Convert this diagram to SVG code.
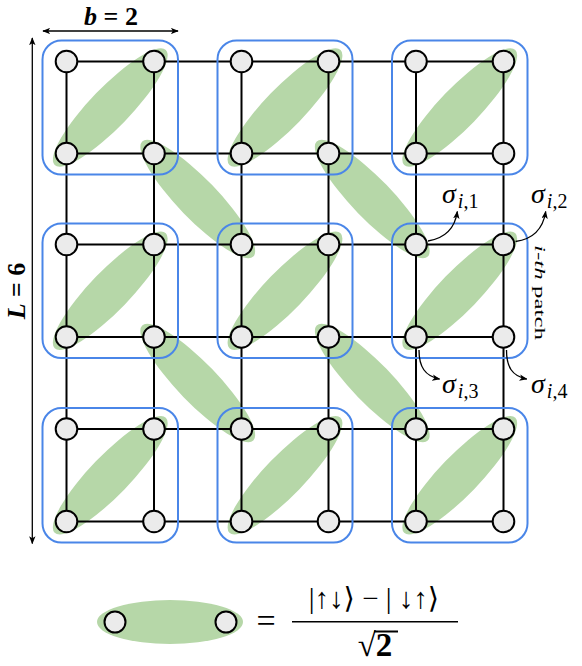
<svg xmlns="http://www.w3.org/2000/svg" width="582" height="666" viewBox="0 0 582 666">
<style>
.pair{fill:#b6d7a8;stroke:none}
.grid line{stroke:#000;stroke-width:2}
.box{fill:none;stroke:#4a86e8;stroke-width:2}
.node{fill:#ebebeb;stroke:#000;stroke-width:2}
.arr{fill:none;stroke:#000;stroke-width:1.3}
</style>
<defs>
<marker id="ah" viewBox="0 0 10 8" refX="9" refY="4" markerWidth="8" markerHeight="6.4" markerUnits="userSpaceOnUse" orient="auto-start-reverse">
<path d="M0,0 L10,4 L0,8 L2.5,4 z" fill="#000"/>
</marker>
</defs>
<rect width="582" height="666" fill="#fff"/>

<!-- singlet pairs (green) -->
<g id="pairs">
<ellipse class="pair" cx="110.25" cy="107.5" rx="80" ry="20" transform="rotate(-46 110.25 107.5)"/>
<ellipse class="pair" cx="285" cy="107.5" rx="80" ry="20" transform="rotate(-46 285 107.5)"/>
<ellipse class="pair" cx="459.75" cy="107.5" rx="80" ry="20" transform="rotate(-46 459.75 107.5)"/>
<ellipse class="pair" cx="110.25" cy="290.75" rx="80" ry="20" transform="rotate(-46 110.25 290.75)"/>
<ellipse class="pair" cx="285" cy="290.75" rx="80" ry="20" transform="rotate(-46 285 290.75)"/>
<ellipse class="pair" cx="459.75" cy="290.75" rx="80" ry="20" transform="rotate(-46 459.75 290.75)"/>
<ellipse class="pair" cx="110.25" cy="475.25" rx="80" ry="20" transform="rotate(-46 110.25 475.25)"/>
<ellipse class="pair" cx="285" cy="475.25" rx="80" ry="20" transform="rotate(-46 285 475.25)"/>
<ellipse class="pair" cx="459.75" cy="475.25" rx="80" ry="20" transform="rotate(-46 459.75 475.25)"/>
<ellipse class="pair" cx="197.75" cy="199" rx="80" ry="20" transform="rotate(46 197.75 199)"/>
<ellipse class="pair" cx="372.25" cy="199" rx="80" ry="20" transform="rotate(46 372.25 199)"/>
<ellipse class="pair" cx="197.75" cy="383" rx="80" ry="20" transform="rotate(46 197.75 383)"/>
<ellipse class="pair" cx="372.25" cy="383" rx="80" ry="20" transform="rotate(46 372.25 383)"/>
</g>

<!-- lattice bonds -->
<g id="connectors" class="grid">
<line x1="66.5" y1="61.5" x2="503.5" y2="61.5"/>
<line x1="66.5" y1="153.5" x2="503.5" y2="153.5"/>
<line x1="66.5" y1="244.5" x2="503.5" y2="244.5"/>
<line x1="66.5" y1="337" x2="503.5" y2="337"/>
<line x1="66.5" y1="429" x2="503.5" y2="429"/>
<line x1="66.5" y1="521.5" x2="503.5" y2="521.5"/>
<line x1="66.5" y1="61.5" x2="66.5" y2="521.5"/>
<line x1="154" y1="61.5" x2="154" y2="521.5"/>
<line x1="241.5" y1="61.5" x2="241.5" y2="521.5"/>
<line x1="328.5" y1="61.5" x2="328.5" y2="521.5"/>
<line x1="416" y1="61.5" x2="416" y2="521.5"/>
<line x1="503.5" y1="61.5" x2="503.5" y2="521.5"/>
</g>

<!-- patches -->
<g id="patch-0-0">
<rect class="box" x="42.5" y="40.5" width="135.5" height="134" rx="19"/>
<circle class="node" cx="66.5" cy="61.5" r="10.8"/><circle class="node" cx="154" cy="61.5" r="10.8"/>
<circle class="node" cx="66.5" cy="153.5" r="10.8"/><circle class="node" cx="154" cy="153.5" r="10.8"/>
</g>
<g id="patch-0-1">
<rect class="box" x="217.5" y="40.5" width="135" height="134" rx="19"/>
<circle class="node" cx="241.5" cy="61.5" r="10.8"/><circle class="node" cx="328.5" cy="61.5" r="10.8"/>
<circle class="node" cx="241.5" cy="153.5" r="10.8"/><circle class="node" cx="328.5" cy="153.5" r="10.8"/>
</g>
<g id="patch-0-2">
<rect class="box" x="392" y="40.5" width="135.5" height="134" rx="19"/>
<circle class="node" cx="416" cy="61.5" r="10.8"/><circle class="node" cx="503.5" cy="61.5" r="10.8"/>
<circle class="node" cx="416" cy="153.5" r="10.8"/><circle class="node" cx="503.5" cy="153.5" r="10.8"/>
</g>
<g id="patch-1-0">
<rect class="box" x="42.5" y="223.5" width="135.5" height="134.5" rx="19"/>
<circle class="node" cx="66.5" cy="244.5" r="10.8"/><circle class="node" cx="154" cy="244.5" r="10.8"/>
<circle class="node" cx="66.5" cy="337" r="10.8"/><circle class="node" cx="154" cy="337" r="10.8"/>
</g>
<g id="patch-1-1">
<rect class="box" x="217.5" y="223.5" width="135" height="134.5" rx="19"/>
<circle class="node" cx="241.5" cy="244.5" r="10.8"/><circle class="node" cx="328.5" cy="244.5" r="10.8"/>
<circle class="node" cx="241.5" cy="337" r="10.8"/><circle class="node" cx="328.5" cy="337" r="10.8"/>
</g>
<g id="patch-1-2">
<rect class="box" x="392" y="223.5" width="135.5" height="134.5" rx="19"/>
<circle class="node" cx="416" cy="244.5" r="10.8"/><circle class="node" cx="503.5" cy="244.5" r="10.8"/>
<circle class="node" cx="416" cy="337" r="10.8"/><circle class="node" cx="503.5" cy="337" r="10.8"/>
</g>
<g id="patch-2-0">
<rect class="box" x="42.5" y="408" width="135.5" height="134.5" rx="19"/>
<circle class="node" cx="66.5" cy="429" r="10.8"/><circle class="node" cx="154" cy="429" r="10.8"/>
<circle class="node" cx="66.5" cy="521.5" r="10.8"/><circle class="node" cx="154" cy="521.5" r="10.8"/>
</g>
<g id="patch-2-1">
<rect class="box" x="217.5" y="408" width="135" height="134.5" rx="19"/>
<circle class="node" cx="241.5" cy="429" r="10.8"/><circle class="node" cx="328.5" cy="429" r="10.8"/>
<circle class="node" cx="241.5" cy="521.5" r="10.8"/><circle class="node" cx="328.5" cy="521.5" r="10.8"/>
</g>
<g id="patch-2-2">
<rect class="box" x="392" y="408" width="135.5" height="134.5" rx="19"/>
<circle class="node" cx="416" cy="429" r="10.8"/><circle class="node" cx="503.5" cy="429" r="10.8"/>
<circle class="node" cx="416" cy="521.5" r="10.8"/><circle class="node" cx="503.5" cy="521.5" r="10.8"/>
</g>

<!-- dimension arrows -->
<g id="dimensions" font-family="'Liberation Serif', 'DejaVu Serif', serif">
<line class="arr" x1="43" y1="31" x2="178" y2="31" marker-start="url(#ah)" marker-end="url(#ah)"/>
<text x="111" y="25" font-size="26" text-anchor="middle" font-weight="bold"><tspan font-style="italic">b</tspan> = 2</text>
<line class="arr" x1="32.3" y1="38" x2="32.3" y2="543.5" marker-start="url(#ah)" marker-end="url(#ah)"/>
<text font-size="26" text-anchor="middle" font-weight="bold" transform="translate(25 291) rotate(-90)"><tspan font-style="italic">L</tspan> = 6</text>
</g>

<!-- site labels -->
<g id="site-labels" font-family="'Liberation Serif', 'DejaVu Serif', serif">
<path class="arr" d="M428,241 C446,238 455,228 457.3,211.5" marker-end="url(#ah)"/>
<path class="arr" d="M515.5,241.5 C534,239 543,229 545.7,211.5" marker-end="url(#ah)"/>
<path class="arr" d="M419,350 C419,367 425,376 439.5,379" marker-end="url(#ah)"/>
<path class="arr" d="M506.5,350 C506.5,367 512,376 526.7,379" marker-end="url(#ah)"/>
<text x="442" y="203" font-size="28" font-style="italic">σ<tspan font-size="20" dx="2" dy="5">i</tspan><tspan font-size="20" font-style="normal">,1</tspan></text>
<text x="531" y="203" font-size="28" font-style="italic">σ<tspan font-size="20" dx="2" dy="5">i</tspan><tspan font-size="20" font-style="normal">,2</tspan></text>
<text x="442" y="393" font-size="28" font-style="italic">σ<tspan font-size="20" dx="2" dy="5">i</tspan><tspan font-size="20" font-style="normal">,3</tspan></text>
<text x="531" y="393" font-size="28" font-style="italic">σ<tspan font-size="20" dx="2" dy="5">i</tspan><tspan font-size="20" font-style="normal">,4</tspan></text>
<text font-size="15" transform="translate(535 245) rotate(90)" textLength="95" lengthAdjust="spacingAndGlyphs"><tspan font-style="italic">i-th</tspan> patch</text>
</g>

<!-- legend -->
<g id="legend" font-family="'Liberation Serif', 'DejaVu Serif', serif">
<ellipse class="pair" cx="170" cy="622" rx="73" ry="22"/>
<circle class="node" cx="115" cy="622" r="10.5"/>
<circle class="node" cx="226" cy="622" r="10.5"/>
<text x="266" y="632" font-size="34" text-anchor="middle">=</text>
<text x="374" y="608" font-size="29" text-anchor="middle">|↑↓⟩ − | ↓↑⟩</text>
<line x1="292" y1="621.7" x2="458" y2="621.7" stroke="#000" stroke-width="1.6"/>
<text x="375" y="656" font-size="33" text-anchor="middle" font-weight="bold">√2</text>
<line x1="374" y1="631.5" x2="398" y2="631.5" stroke="#000" stroke-width="2"/>
</g>
</svg>
